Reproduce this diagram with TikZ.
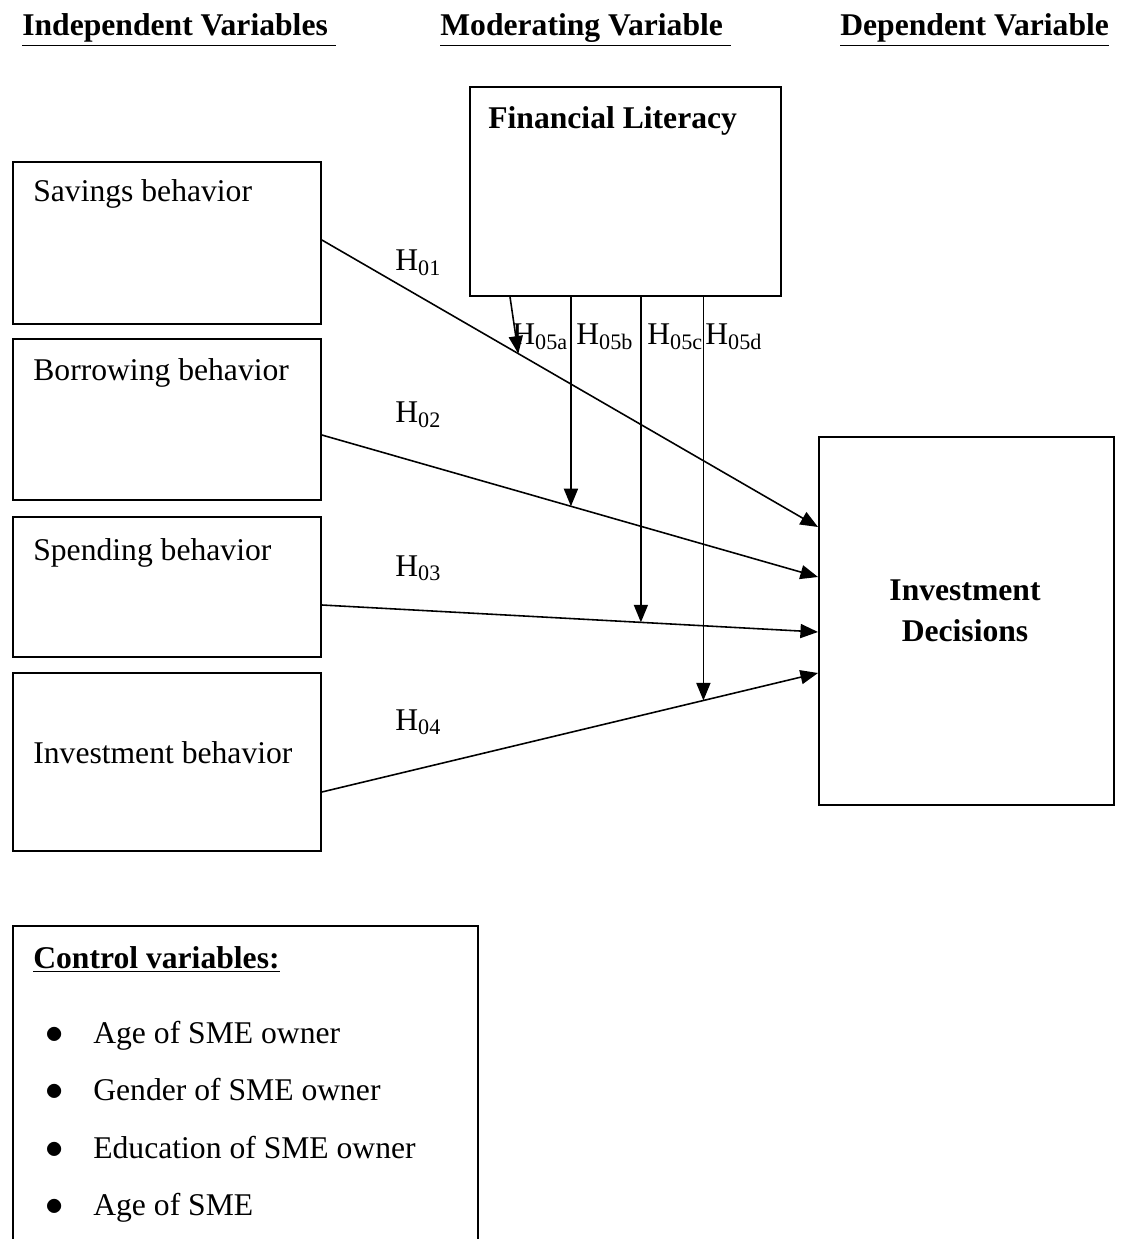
\documentclass[tikz,border=0pt]{standalone}
\usepackage{fontspec}
\setmainfont{Liberation Serif}
\usetikzlibrary{arrows.meta,calc}

\begin{document}
\begin{tikzpicture}[x=0.02cm,y=-0.02cm,
    every node/.style={font=\fontsize{18}{22}\selectfont,inner sep=0pt},
    box/.style={draw,line width=1.1pt,anchor=north west},
    txt/.style={anchor=base west},
    head/.style={anchor=base west,font=\bfseries\fontsize{18}{22}\selectfont},
    conn/.style={line width=0.9pt,-{Triangle[length=10pt,width=8pt]}}]
  \useasboundingbox (0,0) rectangle (1124,1239);
  % headings
  \node[head] (hind) at (22,36) {\underline{Independent Variables\ }};
  \node[head] (hmod) at (440,36) {\underline{Moderating Variable\ }};
  \node[head] (hdep) at (840,36) {\underline{Dependent Variable}};
  % boxes
  \node[box,minimum width=6.22cm,minimum height=4.18cm] (lit) at (469,86) {};
  \node[head] (litt) at (488,129) {Financial Literacy};
  \node[box,minimum width=6.16cm,minimum height=3.24cm] (sav) at (12,161) {};
  \node[txt] (savt) at (33,202) {Savings behavior};
  \node[box,minimum width=6.16cm,minimum height=3.22cm] (bor) at (12,338) {};
  \node[txt] (bort) at (33,381) {Borrowing behavior};
  \node[box,minimum width=6.16cm,minimum height=2.8cm] (spe) at (12,516) {};
  \node[txt] (spet) at (33,560) {Spending behavior};
  \node[box,minimum width=6.16cm,minimum height=3.56cm] (inv) at (12,672) {};
  \node[txt] (invt) at (33,763) {Investment behavior};
  \node[box,minimum width=5.9cm,minimum height=7.36cm] (dec) at (818,436) {};
  \node[align=center,font=\bfseries\fontsize{18}{23}\selectfont] (dect) at (965,611) {Investment\\Decisions};
  % direct effects
  \coordinate (s1) at (sav.east |- 0,240);  \coordinate (e1) at (dec.west |- 0,527);
  \coordinate (s2) at (bor.east |- 0,435);  \coordinate (e2) at (dec.west |- 0,577);
  \coordinate (s3) at (spe.east |- 0,605);  \coordinate (e3) at (dec.west |- 0,632);
  \coordinate (s4) at (inv.east |- 0,792);  \coordinate (e4) at (dec.west |- 0,673);
  \foreach \i/\yl in {1/271,2/423,3/576,4/730}{
    \draw[conn] (s\i) -- (e\i);
    \node[txt] (h0\i) at (395,\yl) {H\textsubscript{0\i}};
  }
  % moderation
  \path (s1) -- (e1) coordinate[pos=0.396] (m1);
  \path (s2) -- (e2) coordinate[pos=0.502] (m2);
  \path (s3) -- (e3) coordinate[pos=0.643] (m3);
  \path (s4) -- (e4) coordinate[pos=0.769] (m4);
  \coordinate (t1) at (510,0);
  \draw[conn] (lit.south -| t1) -- (m1);
  \draw[conn] (lit.south -| m2) -- (m2);
  \draw[conn] (lit.south -| m3) -- (m3);
  \draw[conn] (lit.south -| m4) -- (m4);
  \node[txt] (h5a) at (512,345) {H\textsubscript{05a}};
  \node[txt] (h5b) at (576,345) {H\textsubscript{05b}};
  \node[txt] (h5c) at (647,345) {H\textsubscript{05c}};
  \node[txt] (h5d) at (705,345) {H\textsubscript{05d}};
  % controls
  \node[box,minimum width=9.3cm,minimum height=7cm] (ctl) at (12,925) {};
  \node[head] (ctlt) at (33,968) {\underline{Control variables:}};
  \foreach \t/\yl in {Age of SME owner/1043,Gender of SME owner/1100,
      Education of SME owner/1158,Age of SME/1215}{
    \node[txt,scale=1.2] at (45,\yl) {$\bullet$};
    \node[txt] at (93,\yl) {\t};
  }
\end{tikzpicture}
\end{document}
